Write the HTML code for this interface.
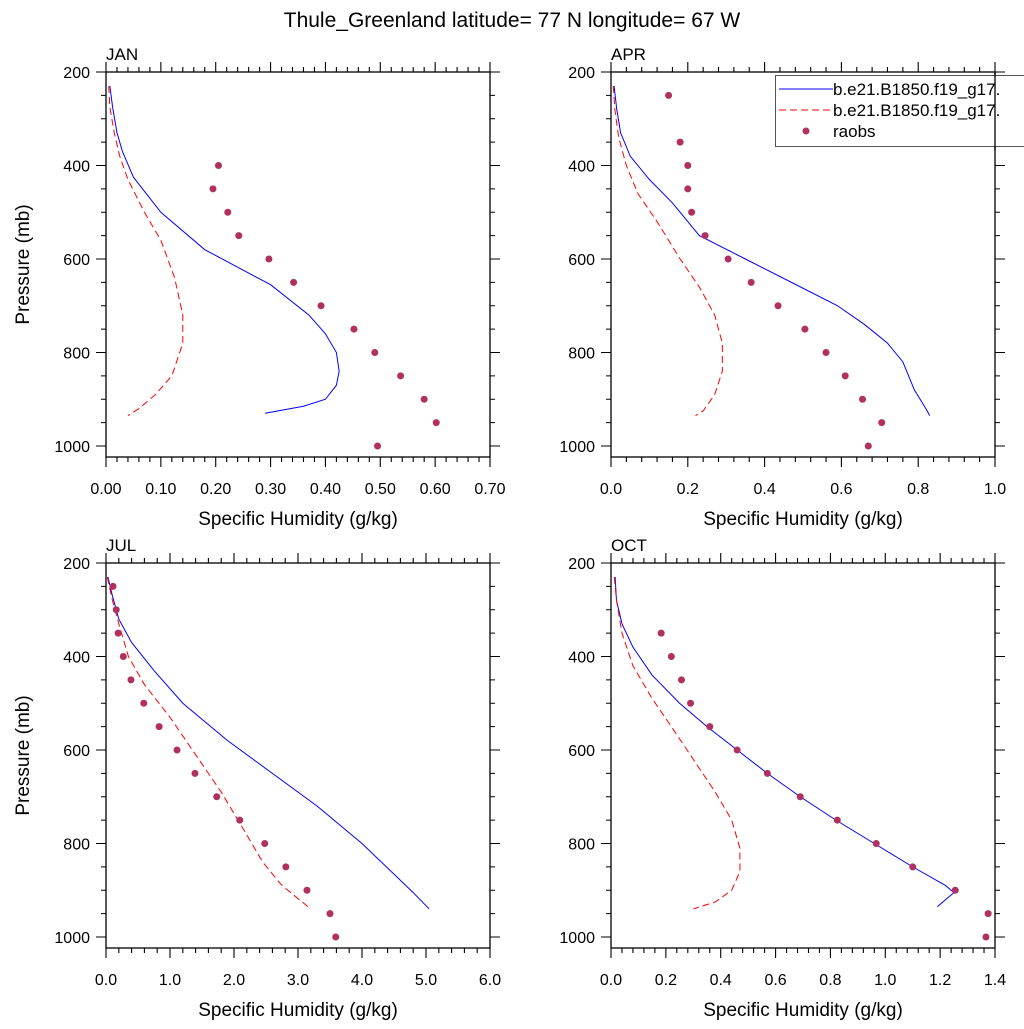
<!DOCTYPE html>
<html><head><meta charset="utf-8"><style>
body{margin:0;background:#fff;}
svg text{font-family:"Liberation Sans",sans-serif;fill:#000;}
</style></head><body>
<svg id="c" width="1024" height="1024" xmlns="http://www.w3.org/2000/svg">
<text x="512" y="27" font-size="21" text-anchor="middle">Thule_Greenland  latitude= 77 N longitude= 67 W</text>
</svg>
<script>
const janRaobs=[[0.205,400],[0.195,450],[0.222,500],[0.242,550],[0.297,600],[0.342,650],[0.392,700],[0.452,750],[0.49,800],[0.537,850],[0.58,900],[0.602,950],[0.495,1000]];
const janBlue=[[0.007,230],[0.012,275],[0.02,330],[0.03,370],[0.05,425],[0.1,500],[0.18,580],[0.3,655],[0.37,720],[0.4,760],[0.42,800],[0.425,840],[0.42,870],[0.4,900],[0.36,915],[0.29,930]];
const janRed=[[0.005,230],[0.007,275],[0.015,330],[0.025,380],[0.04,430],[0.07,500],[0.1,560],[0.125,640],[0.14,720],[0.14,780],[0.12,850],[0.09,890],[0.06,920],[0.04,935]];
const aprRaobs=[[0.15,250],[0.18,350],[0.2,400],[0.2,450],[0.21,500],[0.245,550],[0.305,600],[0.365,650],[0.435,700],[0.505,750],[0.56,800],[0.61,850],[0.655,900],[0.705,950],[0.67,1000]];
const aprBlue=[[0.008,230],[0.015,280],[0.025,330],[0.05,380],[0.1,430],[0.16,480],[0.23,550],[0.35,600],[0.47,650],[0.59,700],[0.66,740],[0.72,780],[0.76,820],[0.79,880],[0.82,920],[0.83,935]];
const aprRed=[[0.006,230],[0.01,280],[0.02,340],[0.04,400],[0.07,460],[0.12,520],[0.18,600],[0.23,660],[0.27,720],[0.29,780],[0.29,840],[0.27,890],[0.24,925],[0.22,935]];
const julRaobs=[[0.11,250],[0.16,300],[0.19,350],[0.27,400],[0.39,450],[0.59,500],[0.83,550],[1.11,600],[1.39,650],[1.73,700],[2.09,750],[2.48,800],[2.81,850],[3.14,900],[3.5,950],[3.59,1000]];
const julBlue=[[0.03,230],[0.1,270],[0.2,320],[0.4,370],[0.75,430],[1.2,500],[1.9,580],[2.6,650],[3.3,720],[4.0,800],[4.8,905],[5.05,940]];
const julRed=[[0.02,230],[0.1,280],[0.2,330],[0.35,400],[0.6,460],[1.0,530],[1.4,610],[1.8,690],[2.15,770],[2.45,840],[2.75,890],[3.2,940]];
const octRaobs=[[0.183,350],[0.22,400],[0.257,450],[0.29,500],[0.36,550],[0.46,600],[0.57,650],[0.69,700],[0.825,750],[0.967,800],[1.1,850],[1.255,900],[1.375,950],[1.367,1000]];
const octBlue=[[0.015,230],[0.02,280],[0.04,330],[0.08,380],[0.15,440],[0.25,500],[0.35,550],[0.46,600],[0.57,650],[0.69,700],[0.82,750],[0.96,800],[1.1,850],[1.22,890],[1.25,905],[1.22,920],[1.19,935]];
const octRed=[[0.012,230],[0.02,280],[0.04,350],[0.08,420],[0.15,490],[0.22,550],[0.3,620],[0.38,690],[0.44,750],[0.47,810],[0.47,860],[0.44,900],[0.38,925],[0.3,940]];
const janTicks=["0.00","0.10","0.20","0.30","0.40","0.50","0.60","0.70"];
const aprTicks=["0.0","0.2","0.4","0.6","0.8","1.0"];
const julTicks=["0.0","1.0","2.0","3.0","4.0","5.0","6.0"];
const octTicks=["0.0","0.2","0.4","0.6","0.8","1.0","1.2","1.4"];
const yTicks=[200,400,600,800,1000];

const svg=document.getElementById('c');
const NS='http://www.w3.org/2000/svg';
function mk(tag,attrs,parent){const e=document.createElementNS(NS,tag);for(const k in attrs)e.setAttribute(k,attrs[k]);(parent||svg).appendChild(e);return e;}

const panels=[
 {name:'jan',label:'JAN',L:106,T:72,xmax:0.7,ticks:janTicks,raobs:janRaobs,blue:janBlue,red:janRed,ytitle:true},
 {name:'apr',label:'APR',L:611,T:72,xmax:1.0,ticks:aprTicks,raobs:aprRaobs,blue:aprBlue,red:aprRed,ytitle:false},
 {name:'jul',label:'JUL',L:106,T:563,xmax:6.0,ticks:julTicks,raobs:julRaobs,blue:julBlue,red:julRed,ytitle:true},
 {name:'oct',label:'OCT',L:611,T:563,xmax:1.4,ticks:octTicks,raobs:octRaobs,blue:octBlue,red:octRed,ytitle:false}
];
const W=384,H=385,PPM=0.4675;
panels.forEach(p=>{
 const g=mk('g',{});
 
 
 const xs=v=>p.L+v/p.xmax*W;
 const ys=v=>p.T+(v-200)*PPM;
 const B=p.T+H,R=p.L+W;
 const box=mk('rect',{x:p.L,y:p.T,width:W,height:H,fill:'none',stroke:'#000','stroke-width':1.3},g);
 
 
 let d='';
 const nMaj=p.ticks.length-1;
 for(let i=0;i<=nMaj*5;i++){
  const x=p.L+i*W/(nMaj*5);const len=(i%5==0)?10:5;
  d+=`M${x},${B}v${len}M${x},${p.T}v${-len}`;
 }
 for(let v=200;v<=1020;v+=50){
  const y=ys(v);const len=(v%200==0)?10:5;
  d+=`M${p.L},${y}h${-len}M${R},${y}h${len}`;
 }
 const tk=mk('path',{d:d,stroke:'#000','stroke-width':1.1,fill:'none'},g);
 
 
 p.ticks.forEach((t,i)=>{
  const e=mk('text',{x:xs(parseFloat(t)),y:B+37,'font-size':16,'text-anchor':'middle'},g);e.textContent=t;
  
  
 });
 yTicks.forEach(v=>{
  const e=mk('text',{x:p.L-16,y:ys(v)+6,'font-size':16,'text-anchor':'end'},g);e.textContent=v;
  
  
 });
 const lb=mk('text',{x:p.L,y:p.T-12,'font-size':17},g);lb.textContent=p.label;
 
 
 const xt=mk('text',{x:p.L+W/2,y:B+68,'font-size':19,'text-anchor':'middle'},g);xt.textContent='Specific Humidity (g/kg)';
 
 
 if(p.ytitle){
  const yt=mk('text',{x:0,y:0,'font-size':19,'text-anchor':'middle',transform:`translate(29,${p.T+H/2}) rotate(-90)`},g);yt.textContent='Pressure (mb)';
  
  
 }
 const bl=mk('polyline',{points:p.blue.map(q=>xs(q[0])+','+ys(q[1])).join(' '),fill:'none',stroke:'#0000ff','stroke-width':1},g);
 
 
 const rl=mk('polyline',{points:p.red.map(q=>xs(q[0])+','+ys(q[1])).join(' '),fill:'none',stroke:'#ff0000','stroke-width':1,'stroke-dasharray':'7,4'},g);
 
 
 p.raobs.forEach(q=>{
  const c=mk('circle',{cx:xs(q[0]),cy:ys(q[1]),r:3.5,fill:'#b03060'},g);
  
  
 });
});
// legend
const lg=mk('g',{});


mk('rect',{x:775.5,y:75.5,width:260,height:71,fill:'#fff',stroke:'#555','stroke-width':1},lg);
mk('line',{x1:779,y1:89,x2:833,y2:89,stroke:'#0000ff','stroke-width':1},lg);
mk('line',{x1:779,y1:110,x2:833,y2:110,stroke:'#ff0000','stroke-width':1,'stroke-dasharray':'7,4'},lg);
mk('circle',{cx:806,cy:131,r:3.5,fill:'#b03060'},lg);
const names=['b.e21.B1850.f19_g17.','b.e21.B1850.f19_g17.','raobs'];
names.forEach((n,i)=>{const t=mk('text',{x:833,y:95+i*21,'font-size':17},lg);t.textContent=n;
 
 });
mk('line',{x1:995,y1:72,x2:995,y2:150,stroke:'#000','stroke-width':1.3});
</script>
</body></html>
